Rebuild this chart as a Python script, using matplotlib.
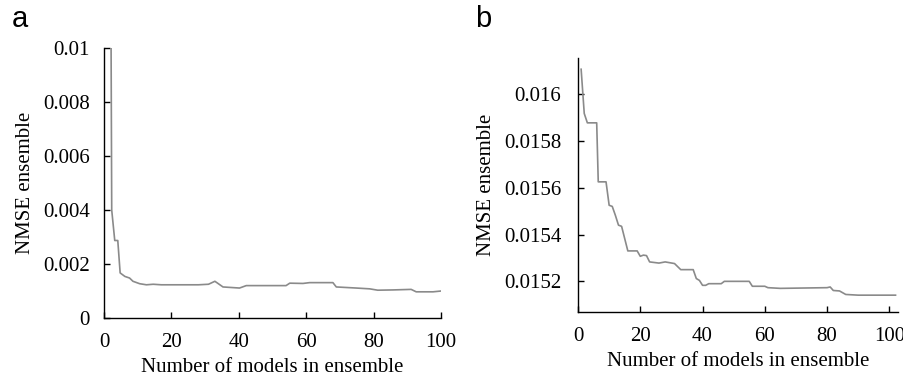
import matplotlib.pyplot as plt
from matplotlib.ticker import FixedLocator

# panel a: NMSE of ensemble vs number of models
models_a = [2.1, 2.3, 3.2, 4.1, 4.8, 6.2, 7.6, 8.6, 10.6, 12.6, 14.6, 17, 22,
            28, 31, 32.9, 35.3, 40.2, 42.2, 52, 54, 55.1, 59, 61, 67.9, 68.9,
            74.8, 78.8, 81.2, 85.7, 91.1, 92.6, 97.6, 100]
nmse_a = [0.0105, 0.0040, 0.00287, 0.00287, 0.00167, 0.00154, 0.00148,
          0.00136, 0.00127, 0.00123, 0.00125, 0.00123, 0.00123, 0.00123,
          0.00125, 0.00136, 0.00115, 0.00111, 0.00120, 0.00120, 0.00120,
          0.00129, 0.00128, 0.00131, 0.00131, 0.00115, 0.00111, 0.00108,
          0.00103, 0.00104, 0.00106, 0.00097, 0.00097, 0.00100]

# panel b
models_b = [1, 2, 3, 6, 6.5, 9, 10, 11, 12, 13, 14, 16, 19, 20, 21, 22, 23,
            26, 28, 31, 33, 37, 38, 39, 40, 41, 42, 46, 47, 55, 56, 60, 61,
            65, 80, 81, 82, 84, 86, 90, 102]
nmse_b = [0.016106, 0.015917, 0.015877, 0.015877, 0.015625, 0.015625,
          0.015525, 0.015520, 0.015482, 0.015440, 0.015435, 0.015330,
          0.015330, 0.015307, 0.015312, 0.015310, 0.015283, 0.015278,
          0.015283, 0.015276, 0.015250, 0.015250, 0.015212, 0.015204,
          0.015183, 0.015183, 0.015190, 0.015190, 0.015200, 0.015200,
          0.015179, 0.015179, 0.015173, 0.015170, 0.015173, 0.015176,
          0.015161, 0.015159, 0.015144, 0.015141, 0.015141]

ticks_a_y = [0, 0.002, 0.004, 0.006, 0.008, 0.01]
labels_a_y = ["0", "0.002", "0.004", "0.006", "0.008", "0.01"]
ticks_b_y = [0.0152, 0.0154, 0.0156, 0.0158, 0.016]
labels_b_y = ["0.0152", "0.0154", "0.0156", "0.0158", "0.016"]
ticks_x = [0, 20, 40, 60, 80, 100]

plt.rcParams["font.family"] = "Liberation Serif"
plt.rcParams["font.size"] = 15

fig = plt.figure(figsize=(9.04, 3.82), dpi=100)
ax1 = fig.add_axes([0.115, 0.1675, 0.373, 0.707])
ax2 = fig.add_axes([0.6394, 0.1832, 0.354, 0.665])

line_color = "#8a8a8a"

ax1.plot(models_a, nmse_a, color=line_color, lw=1.2)
ax1.set_xlim(0, 100)
ax1.set_ylim(0, 0.01)
ax1.yaxis.set_major_locator(FixedLocator(ticks_a_y))
ax1.set_yticklabels(labels_a_y)

ax2.plot(models_b, nmse_b, color=line_color, lw=1.2)
ax2.set_xlim(0, 102.8)
ax2.set_ylim(0.015069, 0.016154)
ax2.yaxis.set_major_locator(FixedLocator(ticks_b_y))
ax2.set_yticklabels(labels_b_y)

for ax, ypad in ((ax1, 10), (ax2, 12)):
    ax.xaxis.set_major_locator(FixedLocator(ticks_x))
    ax.spines["top"].set_visible(False)
    ax.spines["right"].set_visible(False)
    ax.spines["left"].set_linewidth(1.0)
    ax.spines["bottom"].set_linewidth(1.0)
    ax.tick_params(direction="in", length=4, width=1.0)
    ax.tick_params(axis="x", pad=11)
    ax.tick_params(axis="y", pad=ypad)
    ax.set_xlabel("Number of models in ensemble", labelpad=4)
    ax.set_ylabel("NMSE ensemble", labelpad=6)

fig.text(0.013, 0.93, "a", family="Liberation Sans", fontsize=21)
fig.text(0.525, 0.93, "b", family="Liberation Sans", fontsize=21)

fig.savefig("out.png", dpi=100)
